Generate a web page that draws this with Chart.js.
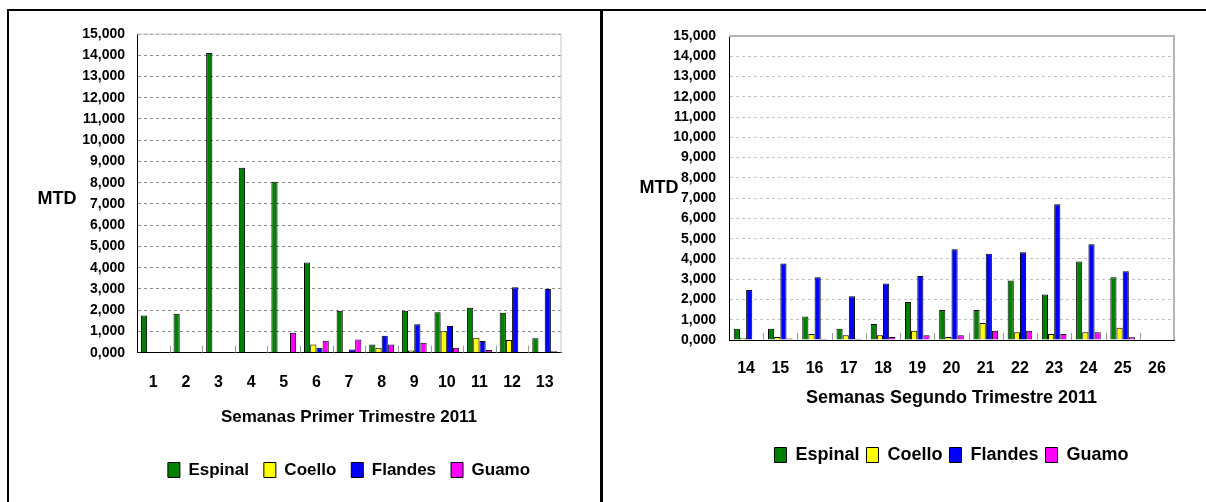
<!DOCTYPE html>
<html>
<head>
<meta charset="utf-8">
<script src="https://cdn.jsdelivr.net/npm/chart.js@4.4.1/dist/chart.umd.min.js"></script>
<style>
  body { margin: 0; background: #fff; }
  #marco { position: relative; width: 1206px; height: 502px; overflow: hidden; }
  canvas { position: absolute; top: 0; }
  .linea { position: absolute; background: #000; z-index: 2; }
  .mtd {
    position: absolute;
    font: bold 18px 'Liberation Sans', Arial, sans-serif;
    transform: translate(-50%, -50%);
  }
</style>
</head>
<body>
<div id="marco">
  <canvas id="grafica1" width="600" height="502" style="left:0"></canvas>
  <canvas id="grafica2" width="603" height="502" style="left:603px"></canvas>
  <div class="linea" style="left:7px;top:9px;width:1199px;height:2px"></div>
  <div class="linea" style="left:7px;top:9px;width:2px;height:493px"></div>
  <div class="linea" style="left:600px;top:9px;width:3px;height:493px"></div>
  <div class="mtd" style="left:57px;top:198px">MTD</div>
  <div class="mtd" style="left:659px;top:187px">MTD</div>
</div>
<script>
// semanas epidemiologicas, valores
const semanas1 = ["1", "2", "3", "4", "5", "6", "7", "8", "9", "10", "11", "12", "13"];
const espinal1 = [1750, 1830, 14100, 8700, 8050, 4250, 1970, 390, 1970, 1900, 2120, 1880, 680];
const coello1 = [0, 0, 0, 0, 0, 390, 0, 230, 100, 1010, 700, 600, 0];
const flandes1 = [0, 0, 0, 0, 0, 230, 150, 800, 1340, 1260, 550, 3080, 3000];
const guamo1 = [0, 0, 0, 0, 940, 560, 620, 390, 470, 230, 130, 0, 70];

const semanas2 = ["14", "15", "16", "17", "18", "19", "20", "21", "22", "23", "24", "25", "26"];
const espinal2 = [550, 550, 1160, 550, 790, 1870, 1480, 1480, 2930, 2250, 3870, 3100, 0];
const coello2 = [90, 150, 300, 230, 230, 460, 150, 840, 380, 300, 380, 600, 0];
const flandes2 = [2470, 3780, 3100, 2160, 2790, 3160, 4480, 4260, 4330, 6700, 4720, 3390, 0];
const guamo2 = [0, 70, 60, 60, 150, 230, 230, 460, 460, 300, 380, 130, 0];

const municipios = ["Espinal", "Coello", "Flandes", "Guamo"];
const colores = ["#008000", "#ffff00", "#0000ff", "#ff00ff"];

Chart.defaults.font.family = "'Liberation Sans', Arial, sans-serif";
Chart.defaults.font.weight = "bold";
Chart.defaults.color = "#000";

// borde gris arriba/derecha y rayitas entre semanas
const marcoGris = {
  id: "marcoGris",
  beforeDatasetsDraw(chart, args, opts) {
    const ctx = chart.ctx;
    const a = chart.chartArea;
    const x = chart.scales.x;
    ctx.save();
    ctx.strokeStyle = opts.color;
    ctx.lineWidth = opts.width;
    ctx.beginPath();
    ctx.moveTo(a.left, a.top);
    ctx.lineTo(a.right, a.top);
    ctx.lineTo(a.right, a.bottom);
    ctx.stroke();
    ctx.strokeStyle = "#999";
    ctx.lineWidth = 1;
    ctx.beginPath();
    for (let i = 1; i < x.ticks.length; i++) {
      const px = Math.round((x.getPixelForTick(i - 1) + x.getPixelForTick(i)) / 2) + 0.5;
      ctx.moveTo(px, a.bottom);
      ctx.lineTo(px, a.bottom - 7);
    }
    ctx.stroke();
    ctx.restore();
  },
};

function crearGrafica(id, semanas, series, titulo, m) {
  const datasets = series.map(function (valores, i) {
    return {
      label: municipios[i],
      data: valores,
      backgroundColor: colores[i],
      borderColor: "#000",
      borderWidth: 1,
      categoryPercentage: m.cat,
      barPercentage: 1,
    };
  });
  return new Chart(document.getElementById(id), {
    type: "bar",
    data: { labels: semanas, datasets: datasets },
    plugins: [marcoGris],
    options: {
      responsive: false,
      animation: false,
      layout: { padding: m.pad },
      scales: {
        x: {
          afterFit: function (s) { s.height = m.alto; },
          grid: { display: false, drawTicks: false },
          border: { color: "#000", width: 1 },
          ticks: { padding: m.tickPad, font: { size: 16 }, maxRotation: 0, autoSkip: false },
          title: { display: true, text: titulo, font: { size: m.tam }, padding: m.tituloPad },
        },
        y: {
          min: 0,
          max: 15000,
          afterFit: function (s) { s.width = m.ancho; },
          grid: { color: m.rejilla, drawTicks: false },
          border: { color: "#000", width: 1, dash: [3, 3] },
          ticks: {
            stepSize: 1000,
            autoSkip: false,
            padding: m.yPad,
            font: { size: 14 },
            callback: function (v) { return v / 1000 + ",000"; },
          },
        },
      },
      plugins: {
        tooltip: { enabled: false },
        marcoGris: { color: m.marco, width: m.marcoAncho },
        legend: {
          position: "bottom",
          fullSize: false,
          labels: { boxWidth: 12, boxHeight: 15, padding: m.legPad, font: { size: m.tam } },
        },
      },
    },
  });
}

crearGrafica("grafica1", semanas1, [espinal1, coello1, flandes1, guamo1], "Semanas Primer Trimestre 2011", {
  cat: 0.76, pad: { top: 34, left: 20, right: 39, bottom: 13.5 }, ancho: 117, yPad: 12, alto: 93.8,
  tickPad: 20.7, tam: 17, tituloPad: { top: 14.2, bottom: 19.3 }, legPad: 15,
  rejilla: "#8c8c8c", marco: "#c8c8c8", marcoAncho: 1,
});

crearGrafica("grafica2", semanas2, [espinal2, coello2, flandes2, guamo2], "Semanas Segundo Trimestre 2011", {
  cat: 0.72, pad: { top: 36, left: 20, right: 32, bottom: 28 }, ancho: 106, yPad: 13, alto: 99,
  tickPad: 19.4, tam: 18, tituloPad: { top: 8.6, bottom: 30.2 }, legPad: 7,
  rejilla: "#c4c4c4", marco: "#b4b4b4", marcoAncho: 2,
});
</script>
</body>
</html>
